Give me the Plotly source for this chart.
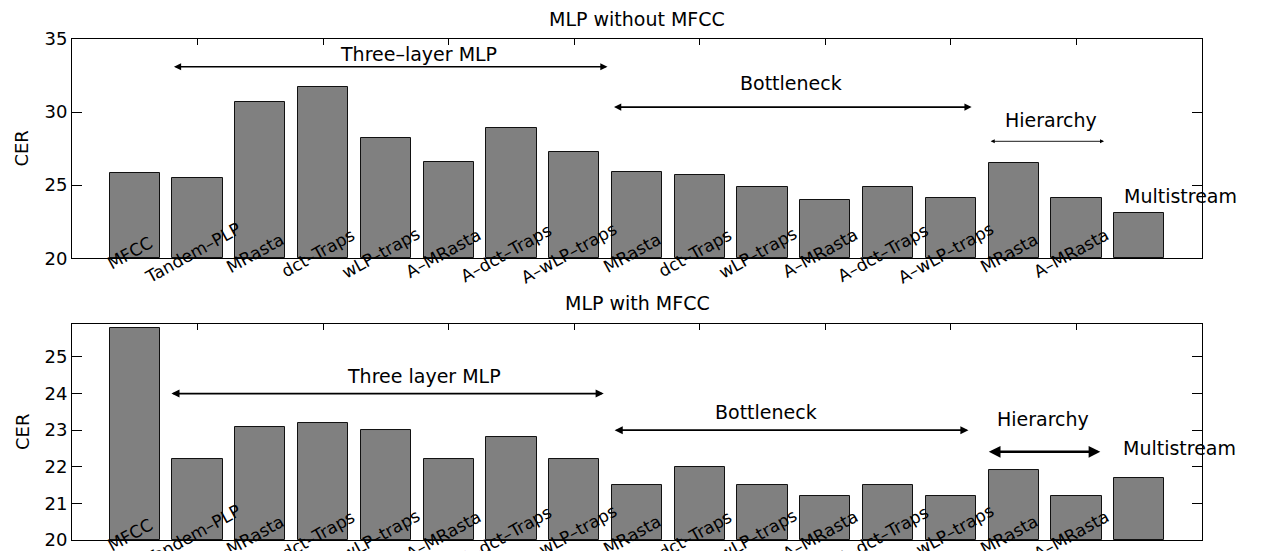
import plotly.graph_objects as go

# ---------------- data ----------------
feature_labels = ["MFCC", "Tandem–PLP", "MRasta", "dct–Traps", "wLP–traps",
                  "A–MRasta", "A–dct–Traps", "A–wLP–traps",
                  "MRasta", "dct–Traps", "wLP–traps", "A–MRasta", "A–dct–Traps", "A–wLP–traps",
                  "MRasta", "A–MRasta", ""]
bar_pos = list(range(1, len(feature_labels) + 1))
cer_without_mfcc = [25.8, 25.5, 30.7, 31.7, 28.2, 26.6, 28.9, 27.3,
                    25.9, 25.7, 24.9, 24.0, 24.9, 24.1, 26.5, 24.1, 23.1]
cer_with_mfcc = [25.8, 22.2, 23.1, 23.2, 23.0, 22.2, 22.8, 22.2,
                 21.5, 22.0, 21.5, 21.2, 21.5, 21.2, 21.9, 21.2, 21.7]
titles = ["MLP without MFCC", "MLP with MFCC"]
top_yticks = [20, 25, 30, 35]
bottom_yticks = [20, 21, 22, 23, 24, 25]

# group annotations: (text, text_x, text_y, arrow_x0, arrow_x1, arrow_y, arrow_width)
groups_top = [
    ("Three–layer MLP", 5.52, 33.97, 1.6, 8.53, 33.1, 1.6),
    ("Bottleneck", 11.46, 32.0, 8.61, 14.33, 30.34, 1.6),
    ("Hierarchy", 15.59, 29.45, 14.61, 16.44, 28.0, 0.9),
    ("Multistream", 17.65, 24.25, None, None, None, None),
]
groups_bottom = [
    ("Three layer MLP", 5.61, 24.48, 1.56, 8.47, 24.0, 1.8),
    ("Bottleneck", 11.06, 23.5, 8.62, 14.28, 23.0, 1.8),
    ("Hierarchy", 15.46, 23.31, 14.58, 16.38, 22.41, 2.6),
    ("Multistream", 17.64, 22.52, None, None, None, None),
]

FONT = "DejaVu Sans, Liberation Sans, sans-serif"
W, H = 1266, 562

fig = go.Figure()
for vals, xa, ya in [(cer_without_mfcc, "x", "y"), (cer_with_mfcc, "x2", "y2")]:
    fig.add_trace(go.Bar(
        x=bar_pos, y=[v - 20 for v in vals], base=20, width=0.8,
        marker=dict(color="#808080", line=dict(color="#111111", width=1)),
        xaxis=xa, yaxis=ya, showlegend=False, hoverinfo="skip"))

axis_common = dict(showline=True, linecolor="black", linewidth=1, mirror="ticks",
                   ticks="inside", tickcolor="black", showgrid=False, zeroline=False,
                   layer="below traces")
xaxis_common = dict(axis_common, range=[0, 18], tickvals=list(range(0, 19, 2)),
                    showticklabels=False, ticklen=6)

TOP_DOM = [0.5624, 1.0]
BOT_DOM = [0.0, 0.4311]

fig.update_layout(
    width=W, height=H, paper_bgcolor="white", plot_bgcolor="white",
    margin=dict(l=72, r=64, t=38.8, b=12.9),
    font=dict(family=FONT, size=18, color="black"),
    bargap=0,
    xaxis=dict(xaxis_common, domain=[0, 1], anchor="y"),
    yaxis=dict(axis_common, domain=TOP_DOM, range=[20, 35], tickvals=top_yticks,
               ticklen=10, tickfont=dict(size=18), anchor="x"),
    xaxis2=dict(xaxis_common, domain=[0, 1], anchor="y2"),
    yaxis2=dict(axis_common, domain=BOT_DOM, range=[20, 25.9], tickvals=bottom_yticks,
                ticklen=10, tickfont=dict(size=18), anchor="x2"),
)

annotations = []
# rotated category labels
for xr, yr in [("x", "y"), ("x2", "y2")]:
    for p, lab in zip(bar_pos, feature_labels):
        if not lab:
            continue
        annotations.append(dict(x=p, y=20, xref=xr, yref=yr, text=lab, showarrow=False,
                                textangle=-29, xanchor="center", yanchor="middle",
                                xshift=-5, yshift=5, font=dict(size=17)))

# group labels and double arrows
for groups, xr, yr in [(groups_top, "x", "y"), (groups_bottom, "x2", "y2")]:
    for text, tx, ty, ax0, ax1, ay, aw in groups:
        annotations.append(dict(x=tx, y=ty, xref=xr, yref=yr, text=text, showarrow=False,
                                xanchor="center", yanchor="middle", font=dict(size=19)))
        if ax0 is not None:
            annotations.append(dict(x=ax1, y=ay, ax=ax0, ay=ay, xref=xr, yref=yr,
                                    axref=xr, ayref=yr, text="", showarrow=True,
                                    arrowhead=2, startarrowhead=2, arrowside="end+start",
                                    arrowsize=0.9, startarrowsize=0.9, arrowwidth=aw,
                                    arrowcolor="black", standoff=0, startstandoff=0))

# panel titles
annotations.append(dict(x=0.5, y=TOP_DOM[1], xref="paper", yref="paper", text=titles[0],
                        showarrow=False, yanchor="middle", yshift=20.5, font=dict(size=19)))
annotations.append(dict(x=0.5, y=BOT_DOM[1], xref="paper", yref="paper", text=titles[1],
                        showarrow=False, yanchor="middle", yshift=21.5, font=dict(size=19)))
# y-axis titles
for dom in [TOP_DOM, BOT_DOM]:
    annotations.append(dict(x=0, y=sum(dom) / 2, xref="paper", yref="paper", text="CER",
                            showarrow=False, textangle=-90, xanchor="center",
                            yanchor="middle", xshift=-50, font=dict(size=18)))

fig.update_layout(annotations=annotations)
fig.write_html("out.html", config={"displayModeBar": False},
               post_script="document.body.style.margin='0px';")
